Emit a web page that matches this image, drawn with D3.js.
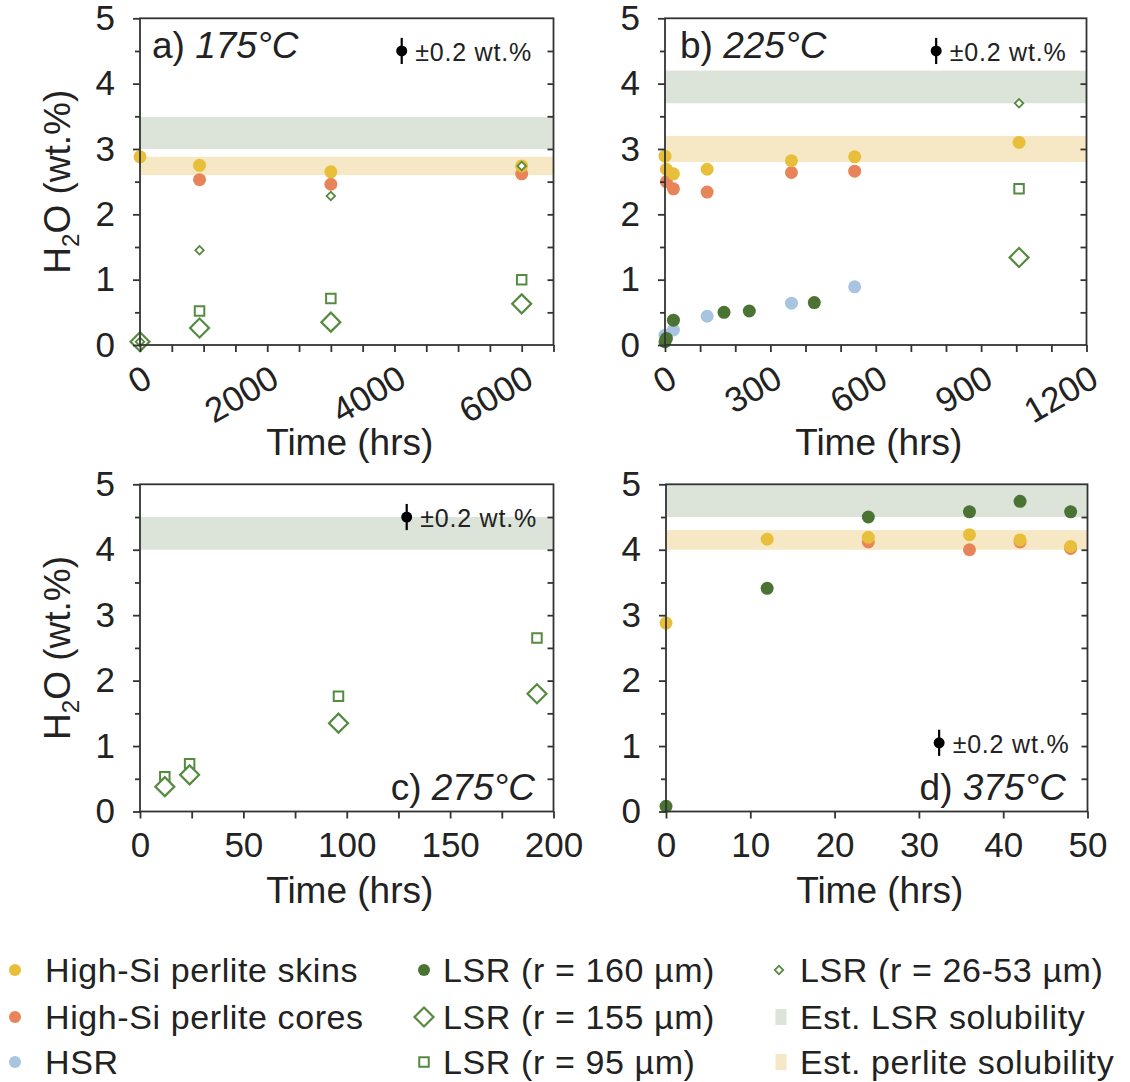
<!DOCTYPE html>
<html><head><meta charset="utf-8">
<script src="https://cdn.jsdelivr.net/npm/d3@7"></script>
<style>
body{margin:0;background:#fff}
svg{display:block}
text{font-family:"Liberation Sans",Arial,Helvetica,sans-serif;fill:#222}
</style>
</head><body>
<svg id="chart" width="1130" height="1082"></svg>
<script>
// ---------------- DATA ----------------
const panelLetters = ["a", "b", "c", "d"];
const panelTemps = ["175°C", "225°C", "275°C", "375°C"];
const xMax = [6500, 1200, 200, 50];
const xMinorStep = [500, 100, 25, 10];
const xLabelStep = [2000, 300, 50, 10];
const yTicks = [0, 1, 2, 3, 4, 5];
const yMinor = [0.5, 1.5, 2.5, 3.5, 4.5];

// a) 175 °C  [time (hrs), H2O wt.%]
const skinsA = [[0, 2.88], [936, 2.75], [3000, 2.65], [6000, 2.74]];
const coresA = [[936, 2.53], [3000, 2.46], [6000, 2.62]];
const lsr155A = [[0, 0.05], [936, 0.26], [3000, 0.35], [6000, 0.63]];
const lsr95A = [[936, 0.52], [3000, 0.71], [6000, 1.0]];
const lsr2653A = [[0, 0.05], [936, 1.45], [3000, 2.28], [6000, 2.74]];
const lsrBandA = [3.0, 3.49];
const perliteBandA = [2.6, 2.88];
const errA = [4114, 4.5];

// b) 225 °C
const skinsB = [[0, 2.89], [4, 2.69], [24, 2.62], [120, 2.69], [360, 2.82], [540, 2.88], [1008, 3.1]];
const coresB = [[4, 2.5], [24, 2.39], [120, 2.34], [360, 2.64], [540, 2.66]];
const hsrB = [[0, 0.15], [24, 0.23], [120, 0.44], [360, 0.64], [540, 0.89]];
const lsr160B = [[0, 0.05], [4, 0.1], [24, 0.38], [168, 0.5], [240, 0.52], [425, 0.65]];
const lsr155B = [[1008, 1.34]];
const lsr95B = [[1008, 2.39]];
const lsr2653B = [[1008, 3.7]];
const lsrBandB = [3.7, 4.2];
const perliteBandB = [2.8, 3.2];
const errB = [772, 4.5];

// c) 275 °C
const lsr155C = [[12, 0.38], [24, 0.56], [96, 1.35], [192, 1.8]];
const lsr95C = [[12, 0.53], [24, 0.73], [96, 1.76], [192, 2.65]];
const lsrBandC = [4.0, 4.5];
const errC = [129, 4.5];

// d) 375 °C
const skinsD = [[0, 2.88], [12, 4.16], [24, 4.19], [36, 4.23], [42, 4.15], [48, 4.05]];
const coresD = [[24, 4.12], [36, 4.0], [42, 4.12], [48, 4.02]];
const lsr160D = [[0, 0.08], [12, 3.41], [24, 4.5], [36, 4.58], [42, 4.74], [48, 4.58]];
const lsrBandD = [4.5, 5.0];
const perliteBandD = [4.0, 4.3];
const errD = [32.4, 1.05];

const errHalf = 0.2;
const errText = "±0.2 wt.%";

const legendLabels = [
  "High-Si perlite skins", "High-Si perlite cores", "HSR",
  "LSR (r = 160 µm)", "LSR (r = 155 µm)", "LSR (r = 95 µm)",
  "LSR (r = 26-53 µm)", "Est. LSR solubility", "Est. perlite solubility"
];
const legendKinds = ["skins", "cores", "hsr", "lsr160", "lsr155", "lsr95", "lsr2653", "lsrBand", "perliteBand"];

// ---------------- STYLE / LAYOUT ----------------
const C = {
  skins: "#e8bf3b", cores: "#e8845a", hsr: "#a8c4df", lsr160: "#4a7334",
  open: "#568a40", lsrBand: "#dce4d9", perliteBand: "#f7e8c5", axis: "#333"
};
const boxes = [
  {x0: 140, x1: 553.5, y0: 18.3, y1: 345},
  {x0: 665, x1: 1086.5, y0: 18.3, y1: 345},
  {x0: 140, x1: 553.5, y0: 484.3, y1: 811.5},
  {x0: 666, x1: 1087.5, y0: 484.3, y1: 811.5}
];
const rotatedX = [true, true, false, false];
const showYTitle = [true, false, true, false];
const labelTop = [true, true, false, false];

const panels = [
  {skins: skinsA, cores: coresA, hsr: [], lsr160: [], lsr95: lsr95A, lsr155: lsr155A, lsr2653: lsr2653A, lsrBand: lsrBandA, perliteBand: perliteBandA, err: errA},
  {skins: skinsB, cores: coresB, hsr: hsrB, lsr160: lsr160B, lsr95: lsr95B, lsr155: lsr155B, lsr2653: lsr2653B, lsrBand: lsrBandB, perliteBand: perliteBandB, err: errB},
  {skins: [], cores: [], hsr: [], lsr160: [], lsr95: lsr95C, lsr155: lsr155C, lsr2653: [], lsrBand: lsrBandC, perliteBand: null, err: errC},
  {skins: skinsD, cores: coresD, hsr: [], lsr160: lsr160D, lsr95: [], lsr155: [], lsr2653: [], lsrBand: lsrBandD, perliteBand: perliteBandD, err: errD}
];

const svg = d3.select("#chart");
const R = 6.5;
const symBig = d3.symbol(d3.symbolSquare, 180)();
const symSmall = d3.symbol(d3.symbolSquare, 36)();
const symSq = d3.symbol(d3.symbolSquare, 90)();

function drawMarker(g, kind, cx, cy) {
  if (kind === "skins" || kind === "cores" || kind === "hsr" || kind === "lsr160") {
    g.append("circle").attr("cx", cx).attr("cy", cy).attr("r", R).attr("fill", C[kind]);
  } else if (kind === "lsr155") {
    g.append("path").attr("d", symBig).attr("transform", `translate(${cx},${cy}) rotate(45)`)
      .attr("fill", "#fff").attr("stroke", C.open).attr("stroke-width", 2.2);
  } else if (kind === "lsr95") {
    g.append("path").attr("d", symSq).attr("transform", `translate(${cx},${cy})`)
      .attr("fill", "#fff").attr("stroke", C.open).attr("stroke-width", 2);
  } else if (kind === "lsr2653") {
    g.append("path").attr("d", symSmall).attr("transform", `translate(${cx},${cy}) rotate(45)`)
      .attr("fill", "#fff").attr("stroke", C.open).attr("stroke-width", 1.8);
  } else if (kind === "lsrBand" || kind === "perliteBand") {
    g.append("rect").attr("x", cx - 5.5).attr("y", cy - 8).attr("width", 11).attr("height", 16).attr("fill", C[kind]);
  }
}

const drawOrder = ["cores", "skins", "hsr", "lsr160", "lsr95", "lsr155", "lsr2653"];

panels.forEach((p, i) => {
  const b = boxes[i];
  const g = svg.append("g");
  const x = d3.scaleLinear().domain([0, xMax[i]]).range([b.x0, b.x1]);
  const y = d3.scaleLinear().domain([0, 5]).range([b.y1, b.y0]);

  // bands
  [["lsrBand", p.lsrBand], ["perliteBand", p.perliteBand]].forEach(([k, band]) => {
    if (!band) return;
    g.append("rect").attr("x", b.x0).attr("width", b.x1 - b.x0)
      .attr("y", y(band[1])).attr("height", y(band[0]) - y(band[1])).attr("fill", C[k]);
  });

  // points
  const pg = g.append("g");
  drawOrder.forEach(k => {
    (p[k] || []).forEach(d => drawMarker(pg, k, x(d[0]), y(d[1])));
  });

  // frame
  g.append("rect").attr("x", b.x0).attr("y", b.y0).attr("width", b.x1 - b.x0).attr("height", b.y1 - b.y0)
    .attr("fill", "none").attr("stroke", C.axis).attr("stroke-width", 1.8);

  const styleAxis = sel => {
    sel.select(".domain").remove();
    sel.selectAll(".tick line").attr("stroke", C.axis).attr("stroke-width", 1.8);
    sel.selectAll(".tick text").attr("fill", "#222").style("font-size", "35px")
      .style("font-family", '"Liberation Sans", Arial, sans-serif');
  };

  // left axis major + minor
  g.append("g").attr("transform", `translate(${b.x0},0)`)
    .call(d3.axisLeft(y).tickValues(yTicks).tickSize(7).tickPadding(18).tickFormat(d3.format("d")))
    .call(styleAxis);
  g.append("g").attr("transform", `translate(${b.x0},0)`)
    .call(d3.axisLeft(y).tickValues(yMinor).tickSize(5).tickFormat(""))
    .call(styleAxis);
  // right axis: inward ticks
  g.append("g").attr("transform", `translate(${b.x1},0)`)
    .call(d3.axisLeft(y).tickValues(d3.range(0.5, 5, 0.5)).tickSize(6).tickFormat(""))
    .call(styleAxis);
  // bottom axis
  const xt = d3.range(0, xMax[i] + 1e-9, xMinorStep[i]);
  const bx = g.append("g").attr("transform", `translate(0,${b.y1})`)
    .call(d3.axisBottom(x).tickValues(xt).tickSize(7).tickPadding(14)
      .tickFormat(d => (Math.abs(d % xLabelStep[i]) < 1e-9 ? d : "")))
    .call(styleAxis);
  if (rotatedX[i]) {
    bx.selectAll(".tick text").attr("x", 0).attr("y", 0).attr("dy", 0)
      .attr("text-anchor", "end").attr("transform", "translate(13.5,40) rotate(-30)");
  }

  // axis titles
  const xt2 = g.append("text").attr("x", (b.x0 + b.x1) / 2 + 3).attr("y", rotatedX[i] ? 455 : b.y1 + 91)
    .attr("text-anchor", "middle").style("font-size", "37px").text("Time (hrs)");
  if (showYTitle[i]) {
    const yt = g.append("text").attr("transform", `translate(70,${(b.y0 + b.y1) / 2}) rotate(-90)`)
      .attr("text-anchor", "middle").style("font-size", "37px");
    yt.append("tspan").text("H");
    yt.append("tspan").text("2").style("font-size", "24px").attr("dy", 9);
    yt.append("tspan").text("O (wt.%)").attr("dy", -9);
  }

  // panel label
  const pl = g.append("text").style("font-size", "37px");
  if (labelTop[i]) {
    pl.attr("x", b.x0 + (i === 0 ? 12 : 15)).attr("y", b.y0 + 40).attr("text-anchor", "start");
  } else {
    pl.attr("x", b.x1 - (i === 2 ? 18.5 : 21.5)).attr("y", b.y1 - 11.5).attr("text-anchor", "end");
  }
  pl.append("tspan").text(panelLetters[i] + ") ");
  pl.append("tspan").text(panelTemps[i]).style("font-style", "italic");

  // error legend
  const ex = x(p.err[0]), ey = y(p.err[1]);
  g.append("line").attr("x1", ex).attr("x2", ex).attr("y1", y(p.err[1] + errHalf)).attr("y2", y(p.err[1] - errHalf))
    .attr("stroke", "#000").attr("stroke-width", 2.2);
  g.append("circle").attr("cx", ex).attr("cy", ey).attr("r", 5.5).attr("fill", "#000");
  g.append("text").attr("x", ex + 13.5).attr("y", ey + 10).style("font-size", "25px")
    .style("letter-spacing", "0.8px").text(errText);
});

// ---------------- LEGEND ----------------
const legMarkX = [15, 424, 779];
const legTextX = [45, 443, 800];
const legRowY = [970, 1017, 1062];
const lg = svg.append("g");
legendLabels.forEach((lab, j) => {
  const col = Math.floor(j / 3), row = j % 3;
  const cy = legRowY[row];
  const kind = legendKinds[j];
  let mx = legMarkX[col];
  if (kind === "lsrBand" || kind === "perliteBand") mx += 2;
  const k = kind === "skins" || kind === "cores" || kind === "hsr" || kind === "lsr160";
  if (k) {
    lg.append("circle").attr("cx", mx).attr("cy", cy).attr("r", 6).attr("fill", C[kind]);
  } else {
    drawMarker(lg, kind, mx, cy);
  }
  lg.append("text").attr("x", legTextX[col]).attr("y", cy + 12).style("font-size", "34px")
    .style("letter-spacing", "0.6px").text(lab);
});
</script>
</body></html>
